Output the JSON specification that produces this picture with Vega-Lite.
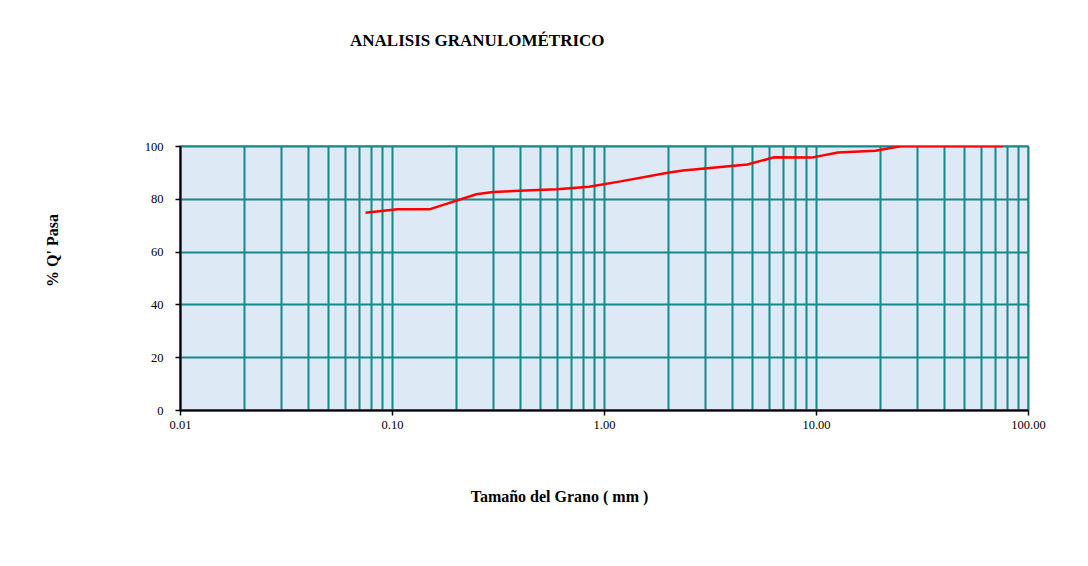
{
  "$schema": "https://vega.github.io/schema/vega-lite/v6.json",
  "autosize": "none",
  "width": 848,
  "height": 264,
  "padding": {"left": 180, "top": 146, "right": 60, "bottom": 156},
  "background": "white",
  "title": {
    "text": "ANALISIS GRANULOMÉTRICO",
    "anchor": "start",
    "frame": "group",
    "dx": 170,
    "offset": 90,
    "font": "Liberation Serif",
    "fontSize": 17,
    "fontWeight": "bold",
    "color": "#000000"
  },
  "config": {
    "view": {"fill": "#dde9f5", "stroke": "#8c8c8c", "strokeWidth": 1.5},
    "axis": {
      "labelFont": "Liberation Serif",
      "labelFontSize": 12.5,
      "labelColor": "#000000",
      "titleFont": "Liberation Serif",
      "titleFontSize": 16,
      "titleFontWeight": "bold",
      "titleColor": "#000000",
      "domainColor": "#000000",
      "domainWidth": 2,
      "tickColor": "#000000",
      "tickWidth": 1.5,
      "gridColor": "#138a8a",
      "gridWidth": 2,
      "gridOpacity": 1
    }
  },
  "data": {
    "values": [
      {"tamano": 0.075, "pasa": 74.7},
      {"tamano": 0.106, "pasa": 76.0},
      {"tamano": 0.15, "pasa": 76.0},
      {"tamano": 0.25, "pasa": 81.7},
      {"tamano": 0.3, "pasa": 82.6},
      {"tamano": 0.425, "pasa": 83.1},
      {"tamano": 0.6, "pasa": 83.6},
      {"tamano": 0.85, "pasa": 84.6},
      {"tamano": 1.18, "pasa": 86.5},
      {"tamano": 2.0, "pasa": 89.9},
      {"tamano": 2.36, "pasa": 90.7},
      {"tamano": 4.75, "pasa": 93.0},
      {"tamano": 6.35, "pasa": 95.7},
      {"tamano": 9.525, "pasa": 95.6},
      {"tamano": 12.7, "pasa": 97.5},
      {"tamano": 19.05, "pasa": 98.2},
      {"tamano": 25.4, "pasa": 100},
      {"tamano": 38.1, "pasa": 100},
      {"tamano": 50.8, "pasa": 100},
      {"tamano": 76.2, "pasa": 100}
    ]
  },
  "mark": {"type": "line", "color": "#ff0000", "strokeWidth": 2.5, "clip": true},
  "encoding": {
    "x": {
      "field": "tamano",
      "type": "quantitative",
      "scale": {"type": "log", "domain": [0.01, 100], "nice": false},
      "axis": {
        "title": "Tamaño del Grano ( mm )",
        "titleX": 379,
        "titleY": 78,
        "values": [0.01, 0.02, 0.03, 0.04, 0.05, 0.06, 0.07, 0.08, 0.09,
                   0.1, 0.2, 0.3, 0.4, 0.5, 0.6, 0.7, 0.8, 0.9,
                   1, 2, 3, 4, 5, 6, 7, 8, 9,
                   10, 20, 30, 40, 50, 60, 70, 80, 90, 100],
        "labelExpr": "indexof([0.01, 0.1, 1, 10, 100], datum.value) >= 0 ? format(datum.value, '.2f') : ''",
        "tickOpacity": {"condition": {"test": "indexof([0.01, 0.1, 1, 10, 100], datum.value) >= 0", "value": 1}, "value": 0},
        "tickSize": 5,
        "labelPadding": 3,
        "labelOverlap": false,
        "labelFlush": false
      }
    },
    "y": {
      "field": "pasa",
      "type": "quantitative",
      "scale": {"domain": [0, 100], "nice": false},
      "axis": {
        "title": "% Q' Pasa",
        "titleX": -120,
        "titleY": 104,
        "values": [0, 20, 40, 60, 80, 100],
        "tickSize": 5,
        "labelPadding": 12
      }
    }
  }
}
